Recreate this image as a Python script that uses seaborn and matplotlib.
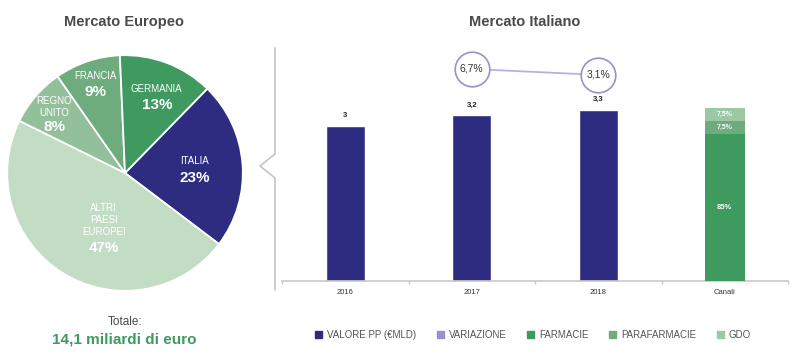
import matplotlib
matplotlib.use("Agg")
import matplotlib.pyplot as plt
from matplotlib.lines import Line2D
from matplotlib.patches import Patch
import pandas as pd
import seaborn as sns

# ---- data ----
pie_labels = ["ITALIA", "ALTRI\nPAESI\nEUROPEI", "REGNO\nUNITO", "FRANCIA", "GERMANIA"]
pie_shares = [23, 47, 8, 9, 13]
pie_colors = ["#2e2c81", "#c3ddc5", "#93c09b", "#6eab7d", "#3f9a60"]

years = ["2016", "2017", "2018"]
valore = [3.0, 3.2, 3.3]
variazione = [6.7, 3.1]            # 2017, 2018
categories = years + ["Canali"]

canali_names = ["FARMACIE", "PARAFARMACIE", "GDO"]
canali_shares = [85, 7.5, 7.5]
canali_colors = ["#3f9a60", "#6eab7d", "#9cc8a3"]

NAVY = "#2e2c81"
PURPLE = "#9a90cf"
GRAY = "#4a4a4a"


def it(v, dec=1):
    s = f"{v:.{dec}f}".replace(".", ",")
    return s[:-2] if s.endswith(",0") else s


sns.set_theme(style="white")
plt.rcParams["font.family"] = ["Liberation Sans", "DejaVu Sans"]

fig = plt.figure(figsize=(8, 3.57), dpi=100)
W, H = 800, 357


def fx(px):
    return px / W


def fy(py):
    return 1 - py / H


# ---- pie: Mercato Europeo ----
axp = fig.add_axes([fx(6), fy(292), fx(238), 238 / H])
axp.pie(pie_shares, colors=pie_colors, startangle=45.7, counterclock=False,
        wedgeprops=dict(edgecolor="white", linewidth=1.3))
axp.set_xlim(-1.01, 1.01)
axp.set_ylim(-1.01, 1.01)

# label positions (name top, pct below)
label_pos = [(0.59, 0.10, -0.04), (-0.18, -0.40, -0.64), (-0.60, 0.56, 0.39),
             (-0.25, 0.82, 0.69), (0.27, 0.71, 0.58)]
for name, share, (x, yn, yp) in zip(pie_labels, pie_shares, label_pos):
    axp.text(x, yn, name, ha="center", va="center", color="white",
             fontsize=7, linespacing=1.25)
    axp.text(x, yp, f"{share}%", ha="center", va="center", color="white",
             fontsize=11, fontweight="bold")

fig.text(fx(124), fy(22), "Mercato Europeo", ha="center", va="center",
         fontsize=10.5, fontweight="bold", color=GRAY)
fig.text(fx(125), fy(322), "Totale:", ha="center", va="center",
         fontsize=8.5, color=GRAY)
fig.text(fx(124), fy(340), "14,1 miliardi di euro", ha="center", va="center",
         fontsize=11, fontweight="bold", color="#3f9a60")

# bracket separator
fig.add_artist(Line2D([fx(275), fx(275), fx(260), fx(275), fx(275)],
                      [fy(48), fy(154), fy(166), fy(178), fy(290)],
                      color="#c8c8c8", linewidth=1.3, transform=fig.transFigure))

# ---- bars: Mercato Italiano ----
ax = fig.add_axes([fx(282), fy(281), fx(506), 233 / H])
df = pd.DataFrame({"anno": years, "valore": valore})
sns.barplot(data=df, x="anno", y="valore", order=categories, color=NAVY,
            width=0.31, saturation=1, ax=ax)
ax.set_xlim(-0.5, 3.5)
ax.set_ylim(0, 233 / 51.8)
for i, v in enumerate(valore):
    ax.text(i, v + 0.13, it(v), ha="center", va="bottom", fontsize=5.5,
            fontweight="bold", color="#222222")

ax.set_xlabel("")
ax.set_ylabel("")
ax.set_yticks([])
ax.set_xticks(range(len(categories)))
ax.set_xticklabels(categories, fontsize=5.5, color="#333333")
ax.set_xticks([-0.5, 0.5, 1.5, 2.5, 3.5], minor=True)
ax.tick_params(axis="x", which="major", length=0, pad=6)
ax.tick_params(axis="x", which="minor", length=2.5, color="#c8c8c8", bottom=True)
for s in ["top", "right", "left"]:
    ax.spines[s].set_visible(False)
ax.spines["bottom"].set_color("#c8c8c8")
ax.spines["bottom"].set_linewidth(1.2)

# stacked canali bar on its own scale
ax2 = ax.twinx()
ax2.set_ylim(0, 100 * 233 / 173)
bottom = 0
for name, share, col in zip(canali_names, canali_shares, canali_colors):
    ax2.bar(3, share, bottom=bottom, width=0.32, color=col, edgecolor="none")
    ax2.text(3, bottom + share / 2, f"{it(share)}%", ha="center", va="center",
             color="white", fontsize=5.5 if share > 50 else 5, fontweight="bold")
    bottom += share
ax2.axis("off")

# variazione line on its own scale
ax3 = ax.twinx()
ax3.set_ylim(-120.5, -120.5 + 233 / 1.667)
vdf = pd.DataFrame({"x": [1, 2], "v": variazione})
sns.lineplot(data=vdf, x="x", y="v", color="#b8b0e0", linewidth=1.3, ax=ax3)
ax3.scatter(vdf["x"], vdf["v"], s=620, facecolor="white", edgecolor=PURPLE,
            linewidth=1.2, zorder=3)
for x, v in zip(vdf["x"], vdf["v"]):
    ax3.text(x, v, f"{it(v)}%", ha="center", va="center", fontsize=7.5,
             color="#333333", zorder=4)
ax3.axis("off")
ax3.set_xlim(-0.5, 3.5)

fig.text(fx(525), fy(22), "Mercato Italiano", ha="center", va="center",
         fontsize=10.5, fontweight="bold", color=GRAY)

# legend
handles = [Patch(color=NAVY, label="VALORE PP (€MLD)"),
           Patch(color=PURPLE, label="VARIAZIONE")]
handles += [Patch(color=c, label=n) for n, c in zip(canali_names, canali_colors)]
fig.legend(handles=handles, loc="center", bbox_to_anchor=(fx(533), fy(335)),
           ncol=5, frameon=False, fontsize=7, handlelength=0.75,
           handleheight=0.75, handletextpad=0.5, columnspacing=2.1,
           labelcolor="#555555")

fig.savefig("out.png", dpi=100)
